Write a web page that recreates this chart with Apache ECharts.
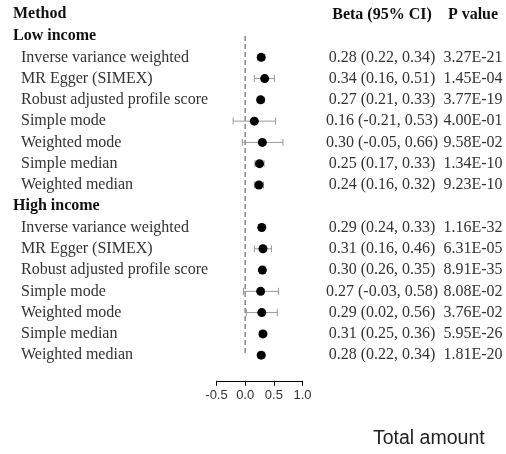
<!DOCTYPE html>
<html>
<head>
<meta charset="utf-8">
<script src="https://cdn.jsdelivr.net/npm/echarts@6/dist/echarts.min.js"></script>
<style>
  html, body { margin: 0; padding: 0; background: #fff; }
  #forest { width: 506px; height: 454px; }
</style>
</head>
<body>
<div id="forest"></div>
<script>
// rows top to bottom; group headers have null values
var rowNames = ['Low income',
    'Inverse variance weighted', 'MR Egger (SIMEX)', 'Robust adjusted profile score',
    'Simple mode', 'Weighted mode', 'Simple median', 'Weighted median',
    'High income',
    'Inverse variance weighted', 'MR Egger (SIMEX)', 'Robust adjusted profile score',
    'Simple mode', 'Weighted mode', 'Simple median', 'Weighted median'];
var isHeader = [1,0,0,0,0,0,0,0,1,0,0,0,0,0,0,0];
var beta  = [null, 0.28, 0.34, 0.27, 0.16, 0.30, 0.25, 0.24, null, 0.29, 0.31, 0.30, 0.27, 0.29, 0.31, 0.28];
var lower = [null, 0.22, 0.16, 0.21, -0.21, -0.05, 0.17, 0.16, null, 0.24, 0.16, 0.26, -0.03, 0.02, 0.25, 0.22];
var upper = [null, 0.34, 0.51, 0.33, 0.53, 0.66, 0.33, 0.32, null, 0.33, 0.46, 0.35, 0.58, 0.56, 0.36, 0.34];
var pValues = ['', '3.27E-21', '1.45E-04', '3.77E-19', '4.00E-01', '9.58E-02', '1.34E-10', '9.23E-10',
    '', '1.16E-32', '6.31E-05', '8.91E-35', '8.08E-02', '3.76E-02', '5.95E-26', '1.81E-20'];

function f2(v) { return v.toFixed(2); }
var betaText = beta.map(function (b, i) {
    if (b === null) return '';
    return f2(b) + ' (' + f2(lower[i]) + ', ' + f2(upper[i]) + ')';
});

var pointData = [], barData = [];
for (var i = 0; i < rowNames.length; i++) {
    if (beta[i] === null) continue;
    pointData.push([beta[i], i]);
    barData.push([lower[i], upper[i], i]);
}

var serif = 'Liberation Serif';
var fs = 16;
var myChart = echarts.init(document.getElementById('forest'));

var option = {
    animation: false,
    grid: { left: 216.5, right: 203.5, top: 25.4, bottom: 88.2 },
    xAxis: {
        type: 'value',
        min: -0.5, max: 1, interval: 0.5,
        offset: 15,
        splitLine: { show: false },
        axisLine: { show: true, onZero: false, lineStyle: { color: '#000', width: 1 } },
        axisTick: { show: true, length: 5, lineStyle: { color: '#000' } },
        axisLabel: {
            margin: 8,
            fontFamily: 'Liberation Sans', fontSize: 13, color: '#333',
            formatter: function (v) { return v.toFixed(1); }
        }
    },
    yAxis: [
        {
            type: 'category', inverse: true, data: rowNames,
            axisLine: { show: false }, axisTick: { show: false }, splitLine: { show: false },
            axisLabel: {
                align: 'left', margin: 203.5, interval: 0,
                formatter: function (v, idx) {
                    return isHeader[idx] ? '{h|' + v + '}' : '{m|' + v + '}';
                },
                rich: {
                    h: { fontFamily: serif, fontSize: fs, fontWeight: 'bold', color: '#111' },
                    m: { fontFamily: serif, fontSize: fs, color: '#333', padding: [0, 0, 0, 8] }
                }
            }
        },
        {
            type: 'category', inverse: true, data: betaText, position: 'right', offset: 0,
            axisLine: { show: false }, axisTick: { show: false }, splitLine: { show: false },
            axisLabel: { align: 'center', margin: 79.5, interval: 0, fontFamily: serif, fontSize: fs, color: '#333' }
        },
        {
            type: 'category', inverse: true, data: pValues, position: 'right', offset: 0,
            axisLine: { show: false }, axisTick: { show: false }, splitLine: { show: false },
            axisLabel: { align: 'center', margin: 170.5, interval: 0, fontFamily: serif, fontSize: fs, color: '#333' }
        }
    ],
    series: [
        {
            type: 'line',
            data: [[0, 0], [0, rowNames.length - 1]],
            symbol: 'none',
            lineStyle: { color: '#888', width: 1.5, type: [5, 3] },
            z: 1
        },
        {
            type: 'custom',
            data: barData,
            encode: { x: [0, 1], y: 2 },
            renderItem: function (params, api) {
                var a = api.coord([api.value(0), api.value(2)]);
                var b = api.coord([api.value(1), api.value(2)]);
                var cap = 3.5;
                var st = { stroke: '#999', lineWidth: 1 };
                return {
                    type: 'group',
                    children: [
                        { type: 'line', shape: { x1: a[0], y1: a[1], x2: b[0], y2: b[1] }, style: st },
                        { type: 'line', shape: { x1: a[0], y1: a[1] - cap, x2: a[0], y2: a[1] + cap }, style: st },
                        { type: 'line', shape: { x1: b[0], y1: b[1] - cap, x2: b[0], y2: b[1] + cap }, style: st }
                    ]
                };
            },
            z: 2
        },
        {
            type: 'scatter',
            data: pointData,
            symbol: 'circle',
            symbolSize: 9,
            itemStyle: { color: '#000', opacity: 1 },
            z: 3
        }
    ],
    graphic: [
        { type: 'text', left: 13, top: 6, style: { text: 'Method', font: 'bold 16px "Liberation Serif"', fill: '#111' } },
        { type: 'text', x: 382, y: 15, style: { text: 'Beta (95% CI)', font: 'bold 16px "Liberation Serif"', fill: '#111', textAlign: 'center', textVerticalAlign: 'middle' } },
        { type: 'text', x: 473, y: 15, style: { text: 'P value', font: 'bold 16px "Liberation Serif"', fill: '#111', textAlign: 'center', textVerticalAlign: 'middle' } },
        { type: 'text', left: 373, top: 429, style: { text: 'Total amount', font: '19.5px "Liberation Sans"', fill: '#222' } }
    ]
};

if (option && typeof option === "object") {
    myChart.setOption(option, true);
}
</script>
</body>
</html>
